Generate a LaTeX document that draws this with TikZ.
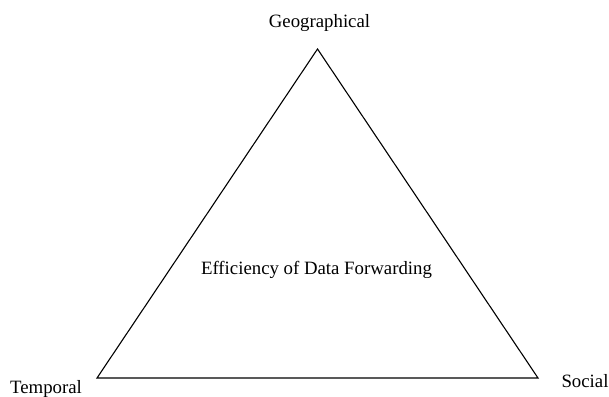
\documentclass[tikz,border=0pt]{standalone}
\usepackage{fontspec}
\setmainfont{Liberation Serif}
\usetikzlibrary{positioning}
\def\unitlen{0.5pt}
\def\labelfontsize{9.4}
\def\edgecolor{black}
\tikzset{
	% labels
	label_text/.style={
		font=\fontsize{\labelfontsize}{11}\selectfont,
		align=center,
		inner sep=0,
		anchor=base,
	},
	% triangle
	edge/.style={
		draw=\edgecolor,
		line width=0.55pt,
		line join=miter,
	},
}
\begin{document}
\begin{tikzpicture}[x=\unitlen, y=\unitlen]
		\useasboundingbox (0,0) rectangle (609,396);
		% Corners
		\coordinate (geographical) at (317.5,347);
		\coordinate (temporal) at (97,18);
		\coordinate (social) at (538,18);
		
		% Triangle
		\draw[edge] (geographical) -- (social) -- (temporal) -- cycle;
		
		% Corner labels
		\node[label_text] (geographical label) at (319.5,368) {Geographical};
		\node[label_text] (temporal label) at (46,3) {Temporal};
		\node[label_text] (social label) at (585,9) {Social};
		
		% Centre
		\node[label_text] (efficiency) at (316.5,121) {Efficiency of Data Forwarding};
	\end{tikzpicture}
\end{document}
